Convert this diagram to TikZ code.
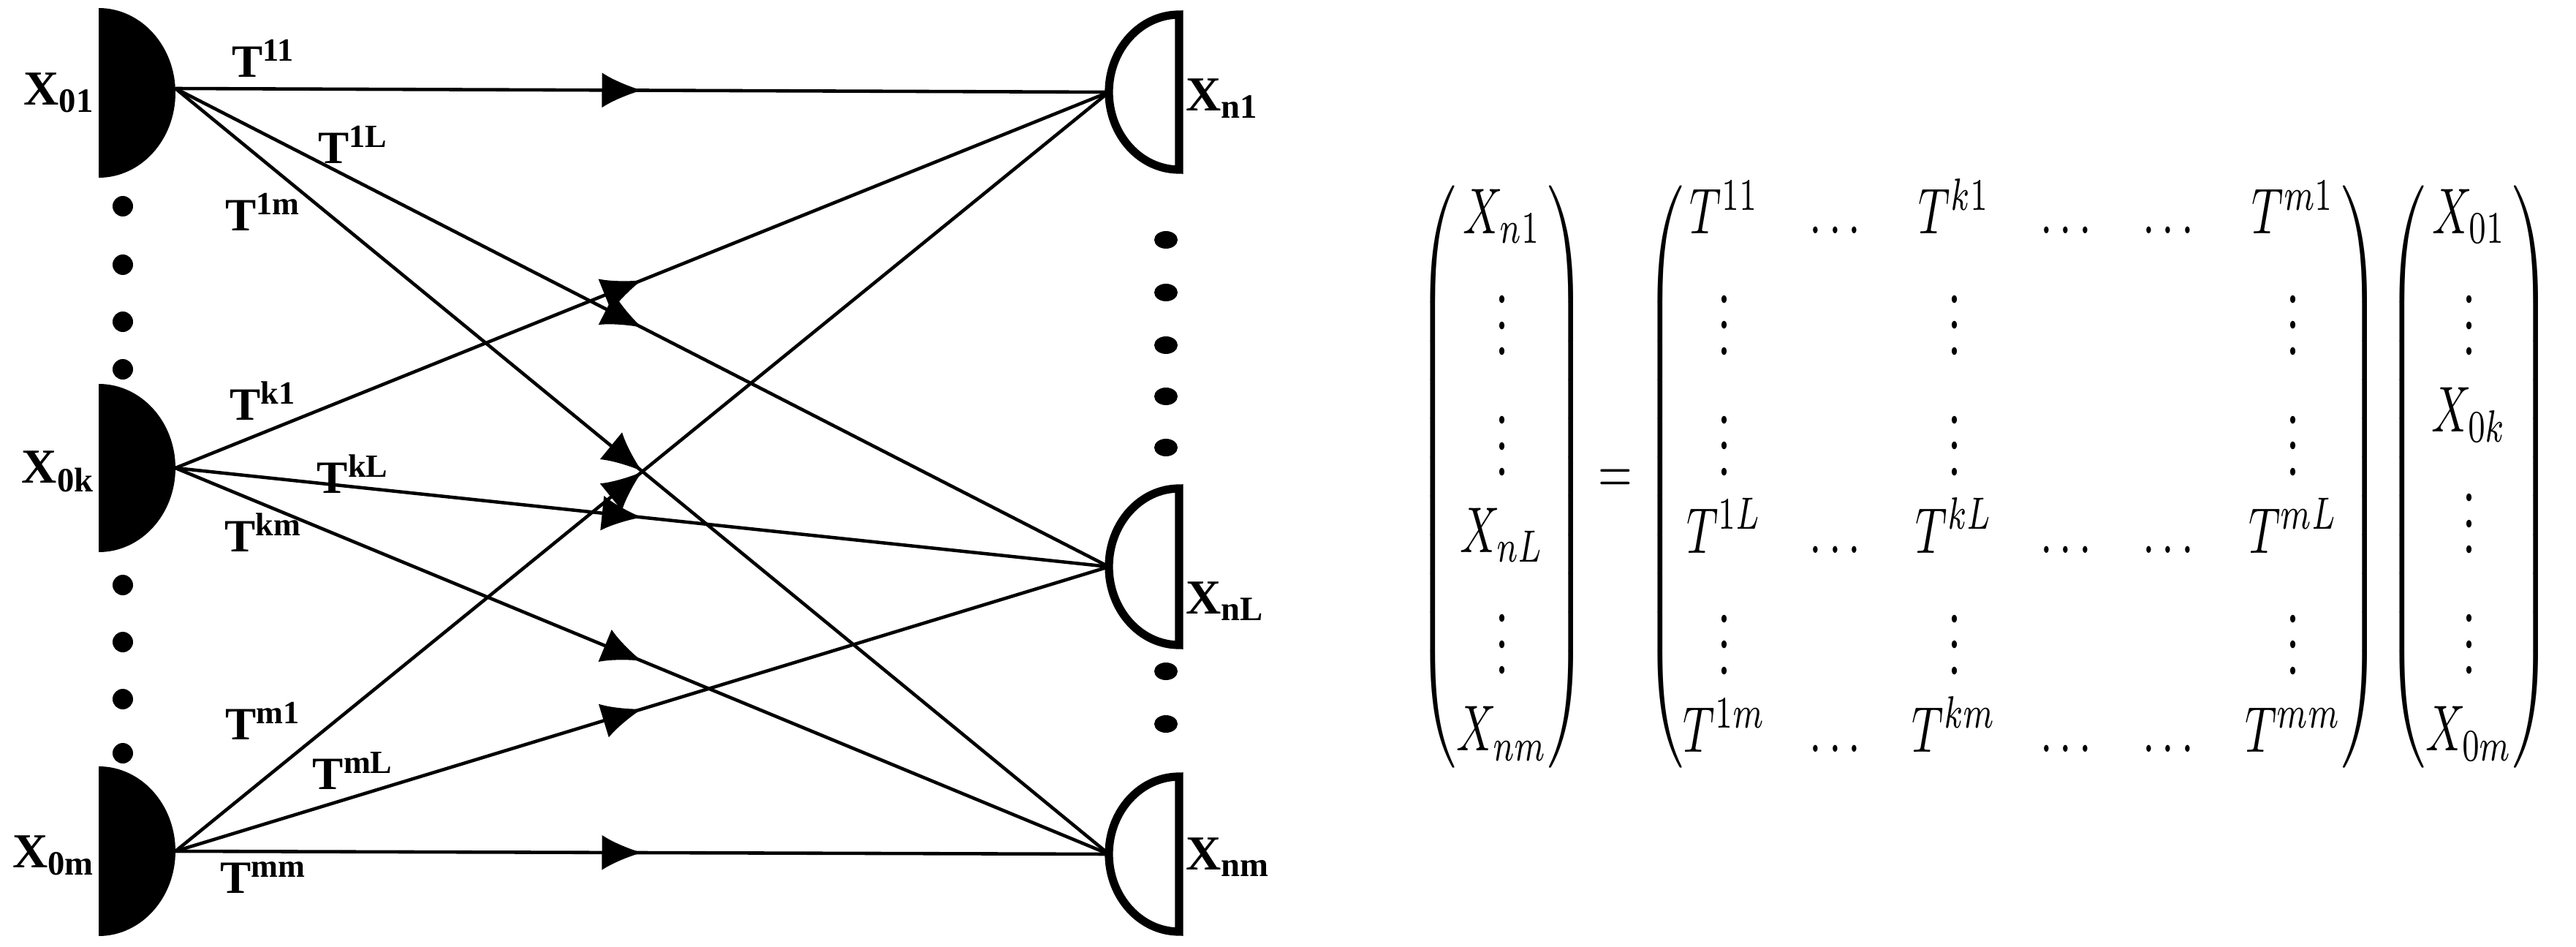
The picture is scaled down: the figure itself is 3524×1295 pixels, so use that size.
\documentclass[tikz,border=0pt]{standalone}
\usepackage{fontspec}
\usepackage{amsmath}
\setmainfont{Liberation Serif}
\usetikzlibrary{arrows.meta,decorations.markings}
\begin{document}
\begin{tikzpicture}[x=0.1mm,y=-0.1mm,
  conn/.style={line width=1.3pt,postaction={decorate},decoration={markings,mark=at position 0.5 with {\arrow{Latex[length=5.5mm,width=4.8mm]}}}},
  lab/.style={font=\fontsize{19}{20}\selectfont\bfseries,inner sep=0pt},
  tlab/.style={font=\fontsize{18}{20}\selectfont\bfseries,inner sep=0pt},
  recv/.style={line width=3.2pt,fill=white}]
\useasboundingbox (0,0) rectangle (3524,1295);
% sources
\fill (135,11) arc[start angle=-90,end angle=90,x radius=105,y radius=116] -- cycle;
\fill (135,525) arc[start angle=-90,end angle=90,x radius=105,y radius=115] -- cycle;
\fill (135,1048) arc[start angle=-90,end angle=90,x radius=105,y radius=116] -- cycle;
\coordinate (s1) at (240,121);
\coordinate (sk) at (240,640);
\coordinate (sm) at (240,1164);
% receivers
\draw[recv] (1613,20) arc[start angle=-90,end angle=-270,x radius=96,y radius=106] -- cycle;
\draw[recv] (1613,668) arc[start angle=-90,end angle=-270,x radius=96,y radius=107] -- cycle;
\draw[recv] (1613,1062) arc[start angle=-90,end angle=-270,x radius=96,y radius=106] -- cycle;
\coordinate (r1) at (1517,126);
\coordinate (rL) at (1517,775);
\coordinate (rm) at (1517,1168);
% dots
\foreach \y in {282,362,440,505,800,878,956,1030} \fill (168,\y) circle[radius=14];
\foreach \y in {328,400,472,542,612,918,990} \fill (1595,\y) ellipse[x radius=16,y radius=12];
% connectors
\foreach \a in {s1,sk,sm} \foreach \b in {r1,rL,rm} \draw[conn] (\a) -- (\b);
% labels
\node[lab,anchor=east] (l01) at (130,127) {X\textsubscript{01}};
\node[lab,anchor=east] (l0k) at (130,645) {X\textsubscript{0k}};
\node[lab,anchor=east] (l0m) at (130,1170) {X\textsubscript{0m}};
\node[lab,anchor=west] (ln1) at (1622,135) {X\textsubscript{n1}};
\node[lab,anchor=west] (lnL) at (1622,822) {X\textsubscript{nL}};
\node[lab,anchor=west] (lnm) at (1622,1172) {X\textsubscript{nm}};
\node[tlab] (t11) at (360,80) {T\textsuperscript{11}};
\node[tlab] (t1L) at (483,198) {T\textsuperscript{1L}};
\node[tlab] (t1m) at (360,290) {T\textsuperscript{1m}};
\node[tlab] (tk1) at (360,548) {T\textsuperscript{k1}};
\node[tlab] (tkL) at (483,648) {T\textsuperscript{kL}};
\node[tlab] (tkm) at (360,728) {T\textsuperscript{km}};
\node[tlab] (tm1) at (360,986) {T\textsuperscript{m1}};
\node[tlab] (tmL) at (483,1054) {T\textsuperscript{mL}};
\node[tlab] (tmm) at (360,1200) {T\textsuperscript{mm}};
% equation
\node[inner sep=0pt] (eq) at (2715,652) {\resizebox{155mm}{43mm}{$\begin{pmatrix}X_{n1}\\ \vdots\\ \vdots\\ X_{nL}\\ \vdots\\ X_{nm}\end{pmatrix}
=\begin{pmatrix}T^{11} & \dots & T^{k1} & \dots & \dots & T^{m1}\\
\vdots & & \vdots & & & \vdots\\
\vdots & & \vdots & & & \vdots\\
T^{1L} & \dots & T^{kL} & \dots & \dots & T^{mL}\\
\vdots & & \vdots & & & \vdots\\
T^{1m} & \dots & T^{km} & \dots & \dots & T^{mm}\end{pmatrix}
\begin{pmatrix}X_{01}\\ \vdots\\ X_{0k}\\ \vdots\\ \vdots\\ X_{0m}\end{pmatrix}$}};
\end{tikzpicture}
\end{document}
